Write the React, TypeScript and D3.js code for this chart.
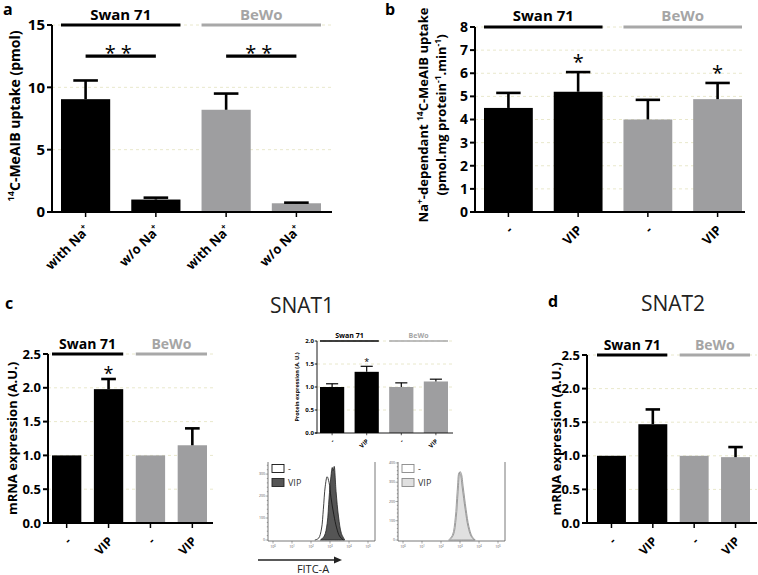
import * as d3 from "d3";

// ---- data ----
const groupNames = ["Swan 71", "BeWo"];
const barColors = ["#000000", "#000000", "#9e9ea0", "#9e9ea0"];

// panel a
const naLabels = [
  [{ t: "with Na" }, { t: "+", sup: true }],
  [{ t: "w/o Na" }, { t: "+", sup: true }],
  [{ t: "with Na" }, { t: "+", sup: true }],
  [{ t: "w/o Na" }, { t: "+", sup: true }],
];
const uptakeMean = [9.05, 1.0, 8.2, 0.7];
const uptakeErr = [10.55, 1.15, 9.5, 0.75];
const uptakeTicks = [0, 5, 10, 15];

// panel b
const vipLabels = [[{ t: "-" }], [{ t: "VIP" }], [{ t: "-" }], [{ t: "VIP" }]];
const naDepMean = [4.5, 5.2, 4.0, 4.88];
const naDepErr = [5.15, 6.05, 4.85, 5.58];
const naDepTicks = [0, 1, 2, 3, 4, 5, 6, 7, 8];

// panel c / d (mRNA)
const snat1Mean = [1.0, 1.98, 1.0, 1.15];
const snat1Err = [null, 2.13, null, 1.4];
const snat2Mean = [1.0, 1.47, 1.0, 0.98];
const snat2Err = [null, 1.69, null, 1.13];
const mrnaTicks = [0, 0.5, 1.0, 1.5, 2.0, 2.5];

// inset protein
const protMean = [1.0, 1.33, 1.0, 1.12];
const protErr = [1.07, 1.45, 1.09, 1.17];
const protTicks = [0, 0.5, 1.0, 1.5, 2.0];

// flow cytometry histograms [log10 FITC, count]
const histSwanCtrl: [number, number][] = [
  [2.2, 0], [2.4, 8], [2.55, 50], [2.65, 140], [2.75, 245], [2.85, 288], [2.95, 262],
  [3.05, 195], [3.2, 115], [3.35, 55], [3.5, 18], [3.7, 0],
];
const histSwanVip: [number, number][] = [
  [2.5, 0], [2.7, 18], [2.85, 75], [2.95, 190], [3.05, 290], [3.12, 330], [3.17, 315],
  [3.22, 335], [3.32, 220], [3.45, 105], [3.6, 30], [3.78, 0],
];
const histBewoCtrl: [number, number][] = [
  [2.4, 0], [2.6, 25], [2.75, 115], [2.85, 250], [2.95, 350], [3.02, 340], [3.12, 270],
  [3.27, 160], [3.42, 70], [3.58, 20], [3.75, 0],
];
const histBewoVip: [number, number][] = [
  [2.45, 0], [2.65, 25], [2.8, 115], [2.9, 250], [3.0, 355], [3.07, 345], [3.17, 275],
  [3.32, 160], [3.47, 70], [3.63, 20], [3.8, 0],
];
const histLogTicks = [0, 1, 2, 3, 4, 5];
const histLeftTicks = [0, 100, 200, 300];
const histRightTicks = [0, 100, 200, 300, 400];

const FONT = "'Open Sans', 'DejaVu Sans', sans-serif";
const GREY_TEXT = "#a5a5a5";
const GRID = "#e9e8cc";

type Seg = { t: string; sup?: boolean };

function Rich({ segs, fs }: { segs: Seg[]; fs: number }) {
  return (
    <>
      {segs.map((s, i) => {
        const prevSup = i > 0 && segs[i - 1].sup;
        let dy = 0;
        if (s.sup && !prevSup) dy = -fs * 0.42;
        else if (!s.sup && prevSup) dy = fs * 0.42;
        return (
          <tspan key={i} dy={dy || undefined} fontSize={s.sup ? fs * 0.65 : undefined}>
            {s.t}
          </tspan>
        );
      })}
    </>
  );
}

interface BarProps {
  values: number[];
  errors: (number | null)[];
  labels: Seg[][];
  domain: [number, number];
  ticks: number[];
  fmt: (v: number) => string;
  axisX: number;
  axisEnd: number;
  barStart: number;
  barEnd: number;
  yTop: number;
  yBottom: number;
  tickFont: number;
  catFont: number;
  groupFont: number;
  groupDY: number;
  yLabel: Seg[][];
  yLabelX: number[];
  yLabelY?: number;
  yLabelFont: number;
  stars?: { i: number; v: number; text: string }[];
  sigs?: { from: number; to: number; v: number }[];
  starFont: number;
  s?: number; // stroke scale
}

function BarPanel(p: BarProps) {
  const s = p.s ?? 1;
  const y = d3.scaleLinear().domain(p.domain).range([p.yBottom, p.yTop]);
  const x = d3
    .scaleBand<number>()
    .domain(d3.range(p.values.length))
    .range([p.barStart, p.barEnd])
    .paddingInner(0.3);
  const bw = x.bandwidth();
  const cx = (i: number) => (x(i) ?? 0) + bw / 2;
  const tickLen = 5 * s;
  const midY = p.yLabelY ?? (p.yTop + p.yBottom) / 2;
  const groups = [
    [0, 1],
    [2, 3],
  ];
  return (
    <g fontFamily={FONT}>
      {/* grid */}
      {p.ticks
        .filter((t) => t !== 0)
        .map((t) => (
          <line key={t} x1={p.axisX} x2={p.axisEnd} y1={y(t)} y2={y(t)} stroke={GRID}
            strokeWidth={1} strokeDasharray="3,3" />
        ))}
      {/* bars */}
      {p.values.map((v, i) => (
        <rect key={i} x={x(i)} y={y(v)} width={bw} height={y(0) - y(v)} fill={barColors[i]} />
      ))}
      {/* error bars (upper only) */}
      {p.errors.map((e, i) =>
        e == null ? null : (
          <g key={i} stroke="#000" strokeWidth={2.6 * s}>
            <line x1={cx(i)} x2={cx(i)} y1={y(p.values[i])} y2={y(e)} />
            <line x1={cx(i) - bw / 4} x2={cx(i) + bw / 4} y1={y(e)} y2={y(e)} />
          </g>
        )
      )}
      {/* axes */}
      <line x1={p.axisX} x2={p.axisX} y1={p.yTop} y2={p.yBottom + 1 * s} stroke="#000" strokeWidth={2 * s} />
      <line x1={p.axisX - tickLen} x2={p.axisEnd} y1={p.yBottom} y2={p.yBottom} stroke="#000" strokeWidth={2 * s} />
      {p.ticks.map((t) => (
        <g key={t}>
          <line x1={p.axisX - tickLen} x2={p.axisX} y1={y(t)} y2={y(t)} stroke="#000" strokeWidth={2 * s} />
          <text x={p.axisX - tickLen - 2 * s} y={y(t)} dy="0.35em" textAnchor="end" fontWeight="bold"
            fontSize={p.tickFont}>
            {p.fmt(t)}
          </text>
        </g>
      ))}
      {/* rotated category labels */}
      {p.values.map((_, i) => (
        <g key={i}>
          <line x1={cx(i)} x2={cx(i)} y1={p.yBottom} y2={p.yBottom + tickLen} stroke="#000" strokeWidth={1.5 * s} />
          <text transform={`translate(${cx(i) + 5 * s},${p.yBottom + 19 * s}) rotate(-45)`}
            textAnchor="end" fontWeight="bold" fontSize={p.catFont}>
            <Rich segs={p.labels[i]} fs={p.catFont} />
          </text>
        </g>
      ))}
      {/* group brackets */}
      {groups.map((g, gi) => {
        const x1 = x(g[0]) ?? 0;
        const x2 = (x(g[1]) ?? 0) + bw;
        const col = gi === 0 ? "#000" : "#a8a8a8";
        return (
          <g key={gi}>
            <line x1={x1} x2={x2} y1={p.yTop} y2={p.yTop} stroke={col} strokeWidth={3.2 * s} />
            <text x={(x1 + x2) / 2} y={p.yTop - p.groupDY} textAnchor="middle" fontWeight="bold"
              fontSize={p.groupFont} fill={gi === 0 ? "#000" : GREY_TEXT}>
              {groupNames[gi]}
            </text>
          </g>
        );
      })}
      {/* significance */}
      {(p.sigs ?? []).map((sg, k) => (
        <line key={k} x1={cx(sg.from)} x2={cx(sg.to)} y1={y(sg.v)} y2={y(sg.v)} stroke="#000" strokeWidth={3.2 * s} />
      ))}
      {(p.stars ?? []).map((st, k) => (
        <text key={k} x={st.i % 1 === 0 ? cx(st.i) : (cx(Math.floor(st.i)) + cx(Math.ceil(st.i))) / 2}
          y={y(st.v) + p.starFont * 0.56} textAnchor="middle" fontSize={p.starFont} fill="#000"
          letterSpacing={st.text.length > 1 ? 5 : 0}>
          {st.text}
        </text>
      ))}
      {/* y label */}
      {p.yLabel.map((segs, k) => (
        <text key={k} transform={`translate(${p.yLabelX[k]},${midY}) rotate(-90)`}
          textAnchor="middle" fontWeight="bold" fontSize={p.yLabelFont}>
          <Rich segs={segs} fs={p.yLabelFont} />
        </text>
      ))}
    </g>
  );
}

interface HistProps {
  x0: number;
  x1: number;
  yTop: number;
  yBottom: number;
  yMax: number;
  yTicks: number[];
  ctrl: [number, number][];
  vip: [number, number][];
  vipFill: string;
  vipStroke: string;
  ctrlStroke: string;
}

function Histogram(h: HistProps) {
  const x = d3.scaleLinear().domain([0, 5]).range([h.x0 + 5, h.x1 - 7]);
  const y = d3.scaleLinear().domain([0, h.yMax]).range([h.yBottom - 1, h.yTop]);
  const area = d3
    .area<[number, number]>()
    .x((d) => x(d[0]))
    .y0(y(0))
    .y1((d) => y(d[1]))
    .curve(d3.curveCatmullRom);
  const line = d3
    .line<[number, number]>()
    .x((d) => x(d[0]))
    .y((d) => y(d[1]))
    .curve(d3.curveCatmullRom);
  const minor = d3.range(0, h.yMax + 1, 20);
  return (
    <g fontFamily={FONT}>
      <path d={area(h.ctrl) ?? ""} fill="#fff" />
      <path d={area(h.vip) ?? ""} fill={h.vipFill} stroke={h.vipStroke} strokeWidth={0.8} />
      <path d={line(h.ctrl) ?? ""} fill="none" stroke={h.ctrlStroke} strokeWidth={0.8} />
      <path d={`M${h.x0},${h.yTop}V${h.yBottom}H${h.x1}V${h.yTop}`} fill="none" stroke="#555" strokeWidth={0.8} />
      {minor.map((t) => (
        <line key={t} x1={h.x0 - (t % 100 === 0 ? 2.5 : 1.2)} x2={h.x0} y1={y(t)} y2={y(t)} stroke="#555" strokeWidth={0.5} />
      ))}
      {h.yTicks.map((t) => (
        <text key={t} x={h.x0 - 3} y={y(t)} dy="0.35em" textAnchor="end" fontSize={3.5} fill="#555">
          {t}
        </text>
      ))}
      {histLogTicks.map((t) => (
        <g key={t}>
          <line x1={x(t)} x2={x(t)} y1={h.yBottom} y2={h.yBottom + 2.5} stroke="#555" strokeWidth={0.5} />
          <text x={x(t)} y={h.yBottom + 7} textAnchor="middle" fontSize={3.6} fill="#555">
            10<tspan dy={-1.5} fontSize={2.6}>{t}</tspan>
          </text>
        </g>
      ))}
      {/* legend */}
      <rect x={h.x0 + 4} y={h.yTop + 2.5} width={12} height={8} fill="#fff" stroke={h.ctrlStroke} strokeWidth={0.9} />
      <text x={h.x0 + 20} y={h.yTop + 9.5} fontSize={9} fill="#333">-</text>
      <rect x={h.x0 + 4} y={h.yTop + 16.5} width={12} height={8} fill={h.vipFill} stroke={h.vipStroke} strokeWidth={0.9} />
      <text x={h.x0 + 20} y={h.yTop + 24} fontSize={9} fill="#333">VIP</text>
    </g>
  );
}

const fmtInt = (v: number) => d3.format("d")(v);
const fmt1 = (v: number) => d3.format(".1f")(v);

export default function App() {
  return (
    <svg width={758} height={575} style={{ position: "absolute", left: 0, top: 0, background: "#fff" }}>
      <rect width={758} height={575} fill="#fff" />
      {/* panel letters and titles */}
      <g fontFamily={FONT} fontWeight="bold" fontSize={16}>
        <text x={3} y={15}>a</text>
        <text x={385} y={15}>b</text>
        <text x={5} y={309}>c</text>
        <text x={548} y={307}>d</text>
      </g>
      <g fontFamily={FONT} fontSize={21} fill="#222">
        <text x={302} y={313} textAnchor="middle">SNAT1</text>
        <text x={673} y={311} textAnchor="middle">SNAT2</text>
      </g>

      <BarPanel
        values={uptakeMean} errors={uptakeErr} labels={naLabels}
        domain={[0, 15]} ticks={uptakeTicks} fmt={fmtInt}
        axisX={52} axisEnd={332} barStart={61} barEnd={321} yTop={25} yBottom={212}
        tickFont={15} catFont={13} groupFont={15} groupDY={5}
        yLabel={[[{ t: "14", sup: true }, { t: "C-MeAIB uptake (pmol)" }]]} yLabelX={[20]} yLabelY={116} yLabelFont={14}
        sigs={[{ from: 0, to: 1, v: 12.5 }, { from: 2, to: 3, v: 12.5 }]}
        stars={[{ i: 0.5, v: 13.1, text: "**" }, { i: 2.5, v: 13.1, text: "**" }]}
        starFont={20}
      />

      <BarPanel
        values={naDepMean} errors={naDepErr} labels={vipLabels}
        domain={[0, 8]} ticks={naDepTicks} fmt={fmtInt}
        axisX={475} axisEnd={745} barStart={484} barEnd={742} yTop={27} yBottom={212}
        tickFont={14} catFont={13} groupFont={15} groupDY={6}
        yLabel={[
          [{ t: "Na" }, { t: "+", sup: true }, { t: "-dependant " }, { t: "14", sup: true }, { t: "C-MeAIB uptake" }],
          [{ t: "(pmol.mg protein" }, { t: "-1", sup: true }, { t: ".min" }, { t: "-1", sup: true }, { t: ")" }],
        ]}
        yLabelX={[428, 446]} yLabelY={115} yLabelFont={13}
        stars={[{ i: 1, v: 6.65, text: "*" }, { i: 3, v: 6.2, text: "*" }]}
        starFont={20}
      />

      <BarPanel
        values={snat1Mean} errors={snat1Err} labels={vipLabels}
        domain={[0, 2.5]} ticks={mrnaTicks} fmt={fmt1}
        axisX={48} axisEnd={213} barStart={52} barEnd={207} yTop={354} yBottom={523}
        tickFont={13} catFont={12} groupFont={14} groupDY={5}
        yLabel={[[{ t: "mRNA expression (A.U.)" }]]} yLabelX={[17]} yLabelFont={13}
        stars={[{ i: 1, v: 2.26, text: "*" }]}
        starFont={18}
      />

      <BarPanel
        values={snat2Mean} errors={snat2Err} labels={vipLabels}
        domain={[0, 2.5]} ticks={mrnaTicks} fmt={fmt1}
        axisX={587} axisEnd={757} barStart={597} barEnd={750} yTop={355} yBottom={523}
        tickFont={13} catFont={12} groupFont={14} groupDY={5}
        yLabel={[[{ t: "mRNA expression (A.U.)" }]]} yLabelX={[561]} yLabelFont={13}
        starFont={18}
      />

      <BarPanel
        values={protMean} errors={protErr} labels={vipLabels}
        domain={[0, 2]} ticks={protTicks} fmt={fmt1}
        axisX={317} axisEnd={453} barStart={320} barEnd={448} yTop={341} yBottom={433}
        tickFont={6} catFont={6} groupFont={7} groupDY={3}
        yLabel={[[{ t: "Protein expression (A. U.)" }]]} yLabelX={[299]} yLabelFont={5.5}
        stars={[{ i: 1, v: 1.58, text: "*" }]}
        starFont={9}
        s={0.45}
      />

      <Histogram
        x0={268} x1={375} yTop={462} yBottom={541} yMax={355} yTicks={histLeftTicks}
        ctrl={histSwanCtrl} vip={histSwanVip}
        vipFill="#555" vipStroke="#222" ctrlStroke="#111"
      />
      <Histogram
        x0={398} x1={505} yTop={462} yBottom={541} yMax={405} yTicks={histRightTicks}
        ctrl={histBewoCtrl} vip={histBewoVip}
        vipFill="#e0e0e0" vipStroke="#888" ctrlStroke="#888"
      />
      {/* FITC-A arrow */}
      <g fontFamily={FONT}>
        <line x1={258} x2={336} y1={560} y2={560} stroke="#222" strokeWidth={1.6} />
        <path d="M342,560 L334,556.5 L334,563.5 Z" fill="#222" />
        <text x={313} y={573} textAnchor="middle" fontSize={11} fill="#222">FITC-A</text>
      </g>
    </svg>
  );
}
